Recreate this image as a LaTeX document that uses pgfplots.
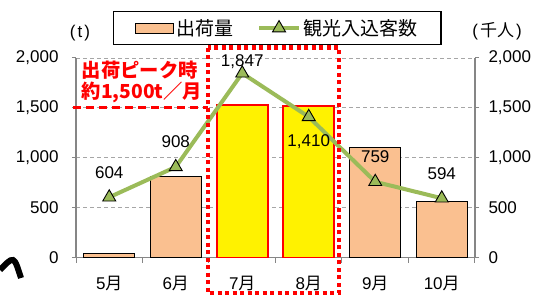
\documentclass[border=0pt]{standalone}
\usepackage{pgfplots}
\pgfplotsset{compat=1.18}
\usepackage{pgfplotstable}
\usepackage{fontspec}
\setmainfont{Liberation Sans}
\newfontfamily\cjk{Noto Sans CJK JP}
\definecolor{barorange}{HTML}{FAC090}
\definecolor{lgreen}{HTML}{9BBB59}
\definecolor{gridgray}{HTML}{A6A6A6}
\definecolor{axgray}{HTML}{868686}

\pgfplotsset{
  barlegend/.style={legend image code/.code={\draw[##1] (0bp,-5bp) rectangle (38bp,5bp);}},
  linelegend/.style={legend image code/.code={\draw[mark repeat=2, mark phase=2, ##1] plot coordinates {(0bp,0bp) (20bp,0bp) (40bp,0bp)};}},
  lab/.style={forget plot, draw=none, mark=none,
    nodes near coords, point meta=explicit symbolic,
    every node near coord/.append style={anchor=center, yshift=#1, text=black,
     font=\fontsize{17bp}{17bp}\selectfont}},
}

\pgfplotstableread{
x ship
0 45
1 810
4 1100
5 560
}\shipnormal
\pgfplotstableread{
x ship
2 1525
3 1515
}\shippeak
\pgfplotstableread{
x visit
0 604
1 908
2 1847
3 1410
4 759
5 594
}\visittable

\begin{document}
\begin{tikzpicture}
\useasboundingbox (0bp,0bp) rectangle (533bp,297bp);
\begin{axis}[
  at={(76bp,39.5bp)}, anchor=south west,
  scale only axis, width=399bp, height=199.5bp,
  xmin=-0.5, xmax=5.5, ymin=0, ymax=2000,
  clip=false,
  axis x line*=bottom, axis y line*=left,
  axis line style={axgray, line width=1.2bp, -},
  xtick={0,...,5},
  xticklabels={5{\cjk 月},6{\cjk 月},7{\cjk 月},8{\cjk 月},9{\cjk 月},10{\cjk 月}},
  major x tick style={draw=none},
  minor xtick={-0.5,0.5,...,5.5},
  minor tick length=5bp,
  major tick length=4bp,
  tick align=outside,
  tick style={axgray, line width=1bp},
  ytick={0,500,...,2000},
  scaled y ticks=false,
  ymajorgrids,
  grid style={gridgray, line width=0.9bp, dash pattern=on 4bp off 3bp},
  /pgf/number format/assume math mode=true,
  /pgf/number format/1000 sep={,},
  yticklabel style={font=\fontsize{17bp}{17bp}\selectfont, xshift=-10bp},
  xticklabel style={font=\fontsize{17bp}{17bp}\selectfont, yshift=-11bp},
  legend columns=2,
  legend style={at={(axis description cs:0.504,1.150)}, anchor=center,
    draw=black, line width=1.2bp,
    font=\cjk\fontsize{19bp}{19bp}\selectfont,
    inner xsep=22bp, inner ysep=5.5bp,
    /tikz/every even column/.append style={column sep=22bp}},
]
\addplot[ybar, bar width=0.77, bar shift=0pt, fill=barorange, draw=black, line width=0.9bp, barlegend]
  table[x=x,y=ship]{\shipnormal};
\addlegendentry{出荷量}
\addplot[ybar, bar width=0.77, bar shift=0pt, fill=yellow, draw=red, line width=1.8bp, forget plot]
  table[x=x,y=ship]{\shippeak};
\addplot[lgreen, line width=4bp, mark=triangle*, mark size=7.5bp,
  mark options={fill=lgreen, draw=black, line width=0.9bp}, linelegend]
  table[x=x,y=visit]{\visittable};
\addlegendentry{観光入込客数}
\addplot[lab=25bp] table[x=x,y=v,meta=t]{
x v t
0 604 604
1 908 908
4 759 759
5 594 594
};
\addplot[lab=12bp] table[x=x,y=v,meta=t]{
x v t
2 1847 1,847
};
\addplot[lab=-25bp] table[x=x,y=v,meta=t]{
x v t
3 1410 1,410
};
\draw[red, line width=3bp, dash pattern=on 8bp off 5bp] (axis cs:-0.545,1500) -- (axis cs:1.485,1500);
\draw[red, line width=4.2bp, dash pattern=on 4bp off 3.5bp] (axis cs:1.485,2105) rectangle (axis cs:3.455,-355);
\node[anchor=west, text=red, inner sep=0pt, font=\cjk\bfseries\fontsize{19.3bp}{20bp}\selectfont] at (axis cs:-0.415,1878) {出荷ピーク時};
\node[anchor=west, text=red, inner sep=0pt, font=\cjk\bfseries\fontsize{19.3bp}{20bp}\selectfont] at (axis cs:-0.415,1652) {約1,500t／月};
\end{axis}
\begin{axis}[
  at={(76bp,39.5bp)}, anchor=south west,
  scale only axis, width=399bp, height=199.5bp,
  xmin=-0.5, xmax=5.5, ymin=0, ymax=2000,
  axis x line=none, axis y line*=right,
  axis line style={axgray, line width=1.2bp, -},
  ytick={0,500,...,2000},
  scaled y ticks=false,
  major tick length=4bp,
  tick align=outside,
  tick style={axgray, line width=1bp},
  /pgf/number format/assume math mode=true,
  /pgf/number format/1000 sep={,},
  yticklabel style={font=\fontsize{17bp}{17bp}\selectfont, xshift=6bp},
]
\end{axis}
\node[font=\fontsize{17bp}{17bp}\selectfont] at (80bp,264bp) {(\hspace{2bp}t\hspace{2bp})};
\node[font=\fontsize{17bp}{17bp}\selectfont] at (497bp,266bp) {(\hspace{2bp}{\cjk 千人}\hspace{2bp})};
\draw[line width=6bp] (0bp,27bp) .. controls (6bp,33bp) and (10bp,38bp) .. (13bp,37bp) .. controls (16bp,36bp) and (18bp,28bp) .. (21bp,19bp);
\end{tikzpicture}
\end{document}
